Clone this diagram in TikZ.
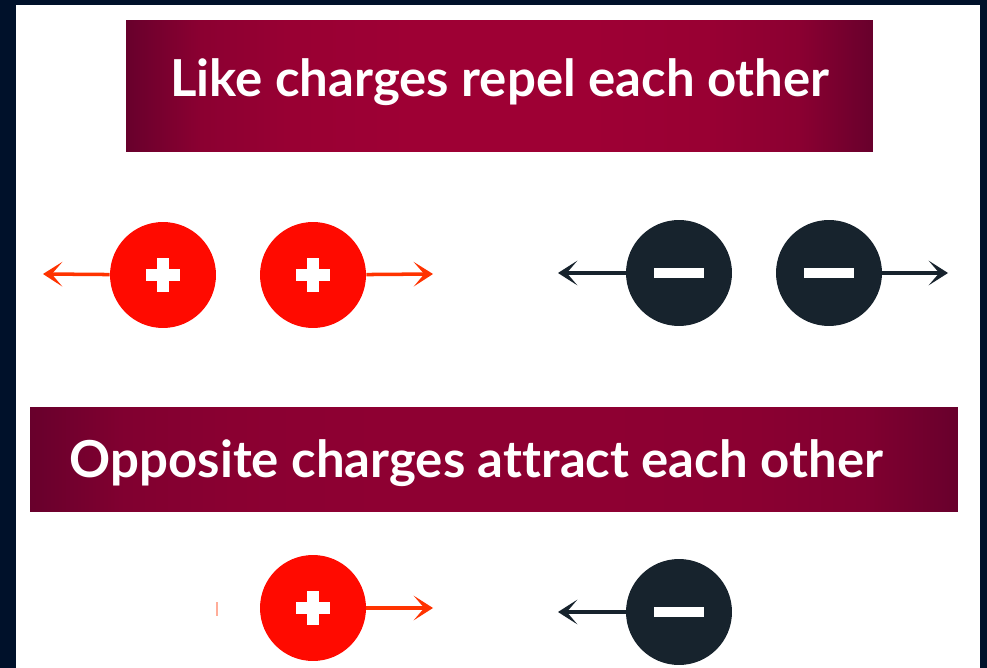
\documentclass[tikz,border=0pt]{standalone}
\usepackage{fontspec}
\newfontfamily\titlefont{Lato}[Ligatures=NoCommon]
\usetikzlibrary{arrows.meta}

\definecolor{frame}{HTML}{00112A}
\definecolor{bardark}{HTML}{68002C}
\definecolor{barmid}{HTML}{9E0034}
\definecolor{barmidb}{HTML}{8E0032}
\definecolor{posred}{HTML}{FF0A00}
\definecolor{posarrow}{HTML}{FF3300}
\definecolor{negdark}{HTML}{17232D}

\pgfdeclarehorizontalshading{barshade}{100bp}{color(0bp)=(bardark); color(25bp)=(bardark);
  color(30bp)=(barmid!65!bardark); color(36bp)=(barmid!90!bardark); color(44bp)=(barmid);
  color(56bp)=(barmid); color(64bp)=(barmid!90!bardark); color(70bp)=(barmid!65!bardark);
  color(75bp)=(bardark); color(100bp)=(bardark)}
\pgfdeclarehorizontalshading{barshadeb}{100bp}{color(0bp)=(bardark); color(25bp)=(bardark);
  color(30bp)=(barmidb!65!bardark); color(36bp)=(barmidb!90!bardark); color(44bp)=(barmidb);
  color(56bp)=(barmidb); color(64bp)=(barmidb!90!bardark); color(70bp)=(barmidb!65!bardark);
  color(75bp)=(bardark); color(100bp)=(bardark)}

\tikzset{
  titlebar/.style={shading=barshade, inner sep=0pt},
  titletext/.style={text=white, anchor=base, inner sep=0pt, font=\titlefont\bfseries\fontsize{29}{32}\selectfont},
  pcharge/.style={circle, fill=posred, minimum size=2.12cm, inner sep=0pt},
  ncharge/.style={circle, fill=negdark, minimum size=2.12cm, inner sep=0pt},
  parrow/.style={draw=posarrow, line width=2pt, -{Stealth[inset=6pt, length=11pt, width=14pt]}},
  narrow/.style={draw=negdark, line width=1.8pt, -{Stealth[inset=6pt, length=11pt, width=14pt]}}
}

\begin{document}
\begin{tikzpicture}[x=0.02cm, y=-0.02cm]
  % frame and page
  \fill[frame] (0,0) rectangle (987,668);
  \fill[white] (16,5) rectangle (980,668);

  % title bars
  \node[titlebar, minimum width=14.94cm, minimum height=2.64cm] (bar1) at (499.5,86) {};
  \node[titletext] (title1) at (500,97) {Like charges repel each other};
  \node[titlebar, shading=barshadeb, minimum width=18.56cm, minimum height=2.1cm] (bar2) at (494,459.5) {};
  \node[titletext] (title2) at (476.5,478) {Opposite charges attract each other};

  % like charges
  \node[pcharge] (p1) at (163,275) {};
  \node[pcharge] (p2) at (313,275) {};
  \node[ncharge] (n1) at (679,273) {};
  \node[ncharge] (n2) at (829,273) {};
  \coordinate (p1end) at (43,274);
  \coordinate (p2end) at (433,274);
  \coordinate (n1end) at (558,273);
  \coordinate (n2end) at (948,273);
  \draw[parrow] (p1) -- (p1end);
  \draw[parrow] (p2) -- (p2end);
  \draw[narrow] (n1) -- (n1end);
  \draw[narrow] (n2) -- (n2end);

  % opposite charges
  \node[pcharge] (p3) at (313,608) {};
  \node[ncharge] (n3) at (679,612) {};
  \coordinate (p3end) at (433,608);
  \coordinate (n3end) at (558,612);
  \draw[parrow] (p3) -- (p3end);
  \draw[narrow] (n3) -- (n3end);
  \draw[posarrow!40, line width=1.5pt] (217,602) -- (217,616);

  % signs
  \foreach \c in {p1,p2,p3} {
    \fill[white] (\c) ++(-17,-6) rectangle ++(34,12);
    \fill[white] (\c) ++(-6,-17) rectangle ++(12,34);
  }
  \foreach \c in {n1,n2,n3} {
    \fill[white] (\c) ++(-25,-5) rectangle ++(50,10);
  }
\end{tikzpicture}
\end{document}
